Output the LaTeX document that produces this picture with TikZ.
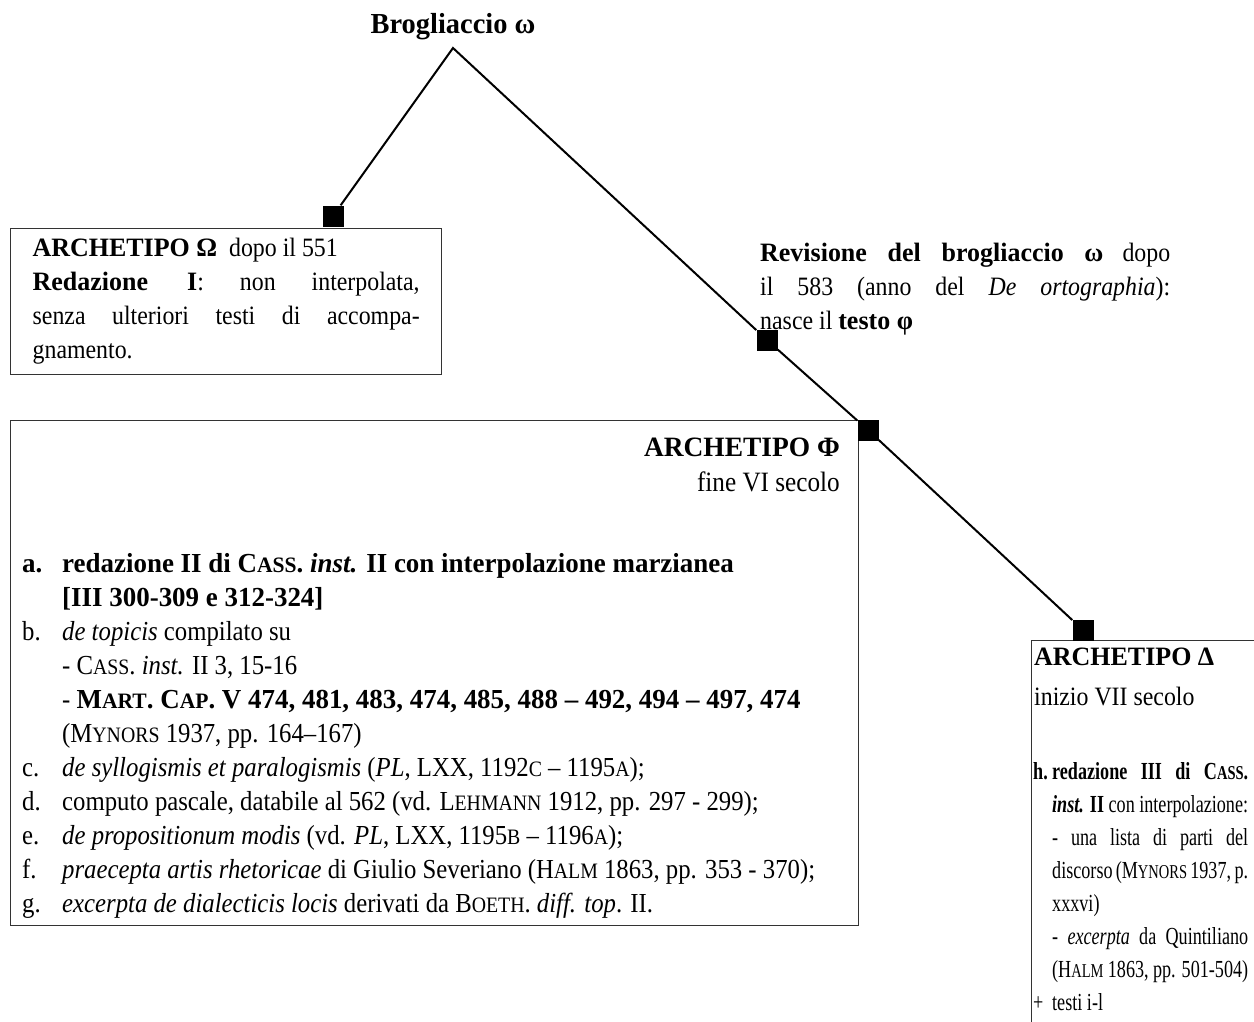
\documentclass[tikz,border=0pt]{standalone}
\usepackage{fontspec}
\setmainfont{Liberation Serif}[FakeStretch=0.9,
  BoldFeatures={FakeStretch=0.98},BoldItalicFeatures={FakeStretch=0.98}]
\newfontfamily\deltafont{Liberation Serif}[FakeStretch=0.74]
\usetikzlibrary{positioning}

\hbadness=10000
\makeatletter
\newcommand{\fsc}[2]{#1{\fontsize{\fpeval{0.8*\f@size}}{\f@baselineskip}\selectfont\MakeUppercase{#2}}}
\makeatother
\newcommand{\lab}[1]{\makebox[40pt][l]{#1}}

\begin{document}
\begin{tikzpicture}[x=1pt,y=-1pt,
    every node/.style={font=\fontsize{26.5}{34}\selectfont,inner sep=0pt},
    frame/.style={draw=black!80,line width=1.3pt,anchor=north west},
    knot/.style={fill=black,minimum size=21pt,inner sep=0pt},
    stem/.style={line width=2pt},
    txt/.style={anchor=north west,align=left}
  ]
    \useasboundingbox (0,0) rectangle (1254,1021);
    \clip (0,0) rectangle (1254,1021);

    \node[anchor=south,font=\fontsize{29}{36}\selectfont\bfseries] (brog) at (453,40) {Brogliaccio ω};
    \coordinate[below=8pt of brog] (apex);

    % archetipo Omega
    \node[frame,text width=387pt,inner xsep=22pt,inner ysep=5pt,
      minimum height=146pt,align=justify] (omega) at (10,228)
      {\textbf{ARCHETIPO Ω}\ \ dopo il 551\newline
       \textbf{Redazione I}: non interpolata,\linebreak
       senza ulteriori testi di accompa-\linebreak
       gnamento.};

    \node[txt,text width=410pt,align=justify] (revis) at (760,243)
      {\textbf{Revisione del brogliaccio ω} dopo\linebreak
       il 583 (anno del \textit{De ortographia}):\linebreak
       nasce il \textbf{testo φ}};

    % archetipo Phi
    \node[frame,minimum width=848pt,minimum height=505pt] (phi) at (10,420) {};
    \node[anchor=north east,align=right,font=\fontsize{28}{35}\selectfont] (phihead) at (840,438)
      {\textbf{ARCHETIPO Φ}\\fine VI secolo};
    \node[txt,font=\fontsize{27.5}{34}\selectfont] (philist) at (22,553)
      {\lab{\textbf{a.}}\textbf{redazione II di \fsc{C}{ass}. \textit{inst.} II con interpolazione marzianea}\\
       \lab{}\textbf{[III 300-309 e 312-324]}\\
       \lab{b.}\textit{de topicis} compilato su\\
       \lab{}- \fsc{C}{ass}. \textit{inst.} II 3, 15-16\\
       \lab{}- \textbf{\fsc{M}{art}. \fsc{C}{ap}. V 474, 481, 483, 474, 485, 488 – 492, 494 – 497, 474}\\
       \lab{}(\fsc{M}{ynors} 1937, pp. 164–167)\\
       \lab{c.}\textit{de syllogismis et paralogismis} (\textit{PL}, LXX, 1192\fsc{}{c} – 1195\fsc{}{a});\\
       \lab{d.}computo pascale, databile al 562 (vd. \fsc{L}{ehmann} 1912, pp. 297 - 299);\\
       \lab{e.}\textit{de propositionum modis} (vd. \textit{PL}, LXX, 1195\fsc{}{b} – 1196\fsc{}{a});\\
       \lab{f.}\textit{praecepta artis rhetoricae} di Giulio Severiano (\fsc{H}{alm} 1863, pp. 353 - 370);\\
       \lab{g.}\textit{excerpta de dialecticis locis} derivati da \fsc{B}{oeth}. \textit{diff. top}. II.};

    % archetipo Delta
    \node[frame,minimum width=260pt,minimum height=420pt] (delta) at (1031,640) {};
    \node[txt] (dhead) at (1034,648) {\textbf{ARCHETIPO Δ}\\[6pt]inizio VII secolo};
    \node[anchor=north west] (dlist) at (1033,762)
      {\parbox[t]{215pt}{\deltafont\fontsize{24.5}{33}\selectfont
       \leftskip=19pt\noindent
       \llap{\makebox[19pt][l]{\textbf{h.}}}\textbf{redazione III di \fsc{C}{ass}.}\linebreak
       \textbf{\textit{inst.} II} con interpolazione:\newline
       - una lista di parti del\linebreak
       discorso (\fsc{M}{ynors} 1937, p.\newline
       xxxvi)\newline
       - \textit{excerpta} da Quintiliano\linebreak
       (\fsc{H}{alm} 1863, pp. 501-504)\newline
       \llap{\makebox[19pt][l]{+}}testi i-l}};

    \node[knot] (sqO) at (333,216) {};
    \node[knot] (sqR) at (767,340) {};
    \node[knot] (sqF) at (868,430) {};
    \node[knot] (sqD) at (1083,630) {};

    \draw[stem] (sqO) -- (apex) -- (sqR) -- (sqF) -- (sqD);
\end{tikzpicture}
\end{document}
